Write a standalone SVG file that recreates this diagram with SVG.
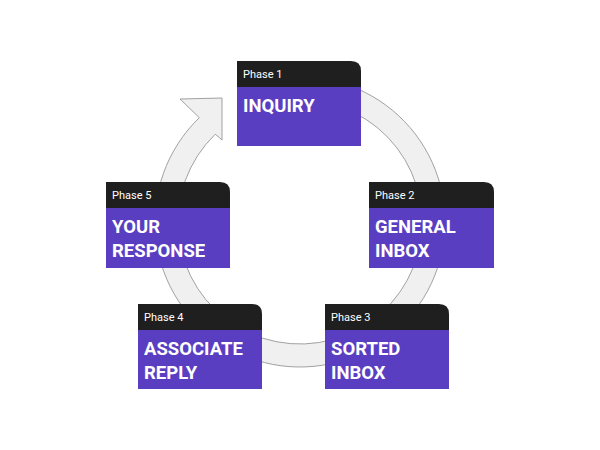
<svg xmlns="http://www.w3.org/2000/svg" width="600" height="450" viewBox="0 0 600 450">
<style>
.hd{fill:#1f1f1f}
.bd{fill:#5a3ec2}
.ph{font-family:Roboto,"Liberation Sans",sans-serif;font-size:11px;fill:#fff}
.tt{font-family:Roboto,"Liberation Sans",sans-serif;font-size:18.5px;font-weight:bold;fill:#fff}
</style>
<rect width="600" height="450" fill="#fff"/>
<g id="connectors">
<path d="M300,77 A145,145 0 1 1 199.3,117.7 L180,99 L222,98 L222,140 L215.3,134.2 A122,122 0 1 0 300,100 Z" fill="#f0f0f0" stroke="#8a8a8a" stroke-width="0.8"/>
</g>
<g id="phase1">
<path class="hd" d="M237,61 H351 Q361,61 361,71 V88 H237 Z"/><rect class="bd" x="237" y="87" width="124" height="59"/>
<text class="ph" x="243" y="78">Phase 1</text><text class="tt" x="243" y="112">INQUIRY</text>
</g>
<g id="phase2">
<path class="hd" d="M369,182 H484 Q494,182 494,192 V209 H369 Z"/><rect class="bd" x="369" y="208" width="125" height="60"/>
<text class="ph" x="375" y="199">Phase 2</text><text class="tt" x="375" y="233">GENERAL</text><text class="tt" x="375" y="257">INBOX</text>
</g>
<g id="phase3">
<path class="hd" d="M325,304 H439 Q449,304 449,314 V331 H325 Z"/><rect class="bd" x="325" y="330" width="124" height="59"/>
<text class="ph" x="331" y="321">Phase 3</text><text class="tt" x="331" y="355">SORTED</text><text class="tt" x="331" y="379">INBOX</text>
</g>
<g id="phase4">
<path class="hd" d="M138,304 H252 Q262,304 262,314 V331 H138 Z"/><rect class="bd" x="138" y="330" width="124" height="59"/>
<text class="ph" x="144" y="321">Phase 4</text><text class="tt" x="144" y="355">ASSOCIATE</text><text class="tt" x="144" y="379">REPLY</text>
</g>
<g id="phase5">
<path class="hd" d="M106,182 H220 Q230,182 230,192 V209 H106 Z"/><rect class="bd" x="106" y="208" width="124" height="60"/>
<text class="ph" x="112" y="199">Phase 5</text><text class="tt" x="112" y="233">YOUR</text><text class="tt" x="112" y="257">RESPONSE</text>
</g>
</svg>
